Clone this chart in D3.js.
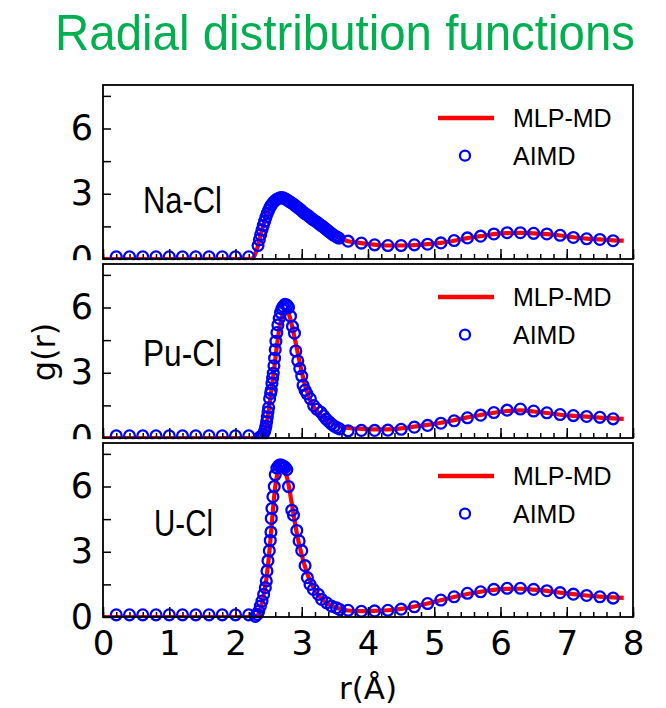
<!DOCTYPE html>
<html><head><meta charset="utf-8">
<script src="https://cdn.jsdelivr.net/npm/d3@7"></script>
<style>html,body{margin:0;padding:0;background:#fff;} svg{display:block;}</style>
</head><body><svg id="c" width="666" height="708"></svg>
<script>
// ---------- data ----------
const chartTitle = "Radial distribution functions";
const panelNames = ["Na-Cl", "Pu-Cl", "U-Cl"];
const legendLabels = ["MLP-MD", "AIMD"];
const xTickLabels = [0, 1, 2, 3, 4, 5, 6, 7, 8];
const yTickLabels = [0, 3, 6];
const xTitle = "r(Å)";
const yTitle = "g(r)";

// AIMD sparse points (shared r positions)
const aimdFlatR = [0.2, 0.4, 0.6, 0.8, 1.0, 1.2, 1.4, 1.6, 1.8, 2.0, 2.2];
const aimdFlatG = [0.1, 0.1, 0.1, 0.1, 0.1, 0.1, 0.1, 0.1, 0.1, 0.1, 0.1];
const aimdTailR = [3.7, 3.9, 4.1, 4.3, 4.5, 4.7, 4.9, 5.1, 5.3, 5.5, 5.7, 5.9, 6.1, 6.3, 6.5, 6.7, 6.9, 7.1, 7.3, 7.5, 7.7];

// Na-Cl
const naclPeakR = [2.34,2.36,2.38,2.40,2.42,2.44,2.46,2.48,2.50,2.52,2.54,2.57,2.60,2.63,2.66,2.69,2.72,2.75,2.78,2.81,2.84,2.87,2.90,2.93,2.96,2.99,3.02,3.05,3.08,3.11,3.14,3.17,3.20,3.23,3.26,3.29,3.32,3.35,3.38,3.41,3.44,3.47,3.50,3.53,3.56];
const naclPeakG = [0.62,0.88,1.12,1.34,1.55,1.74,1.93,2.10,2.24,2.37,2.48,2.60,2.69,2.76,2.80,2.82,2.81,2.77,2.71,2.65,2.59,2.53,2.46,2.39,2.32,2.25,2.16,2.09,2.03,1.96,1.88,1.81,1.75,1.69,1.62,1.55,1.49,1.41,1.34,1.26,1.19,1.12,1.06,1.01,0.96];
const naclTailG = [0.82,0.73,0.65,0.62,0.62,0.65,0.68,0.74,0.85,0.97,1.05,1.15,1.21,1.21,1.18,1.15,1.09,0.99,0.93,0.90,0.84];
const naclLineR = [0,2.2,2.26,2.30,2.34,2.38,2.42,2.46,2.50,2.55,2.60,2.65,2.70,2.75,2.80,2.90,3.00,3.10,3.20,3.30,3.40,3.50,3.60,3.70,3.90,4.10,4.30,4.50,4.70,4.90,5.10,5.30,5.50,5.70,5.90,6.10,6.30,6.50,6.70,6.90,7.10,7.30,7.50,7.70,7.86];
const naclLineG = [0,0,0.03,0.25,0.62,1.12,1.55,1.93,2.24,2.52,2.69,2.79,2.82,2.77,2.67,2.46,2.22,1.98,1.75,1.53,1.29,1.07,0.92,0.82,0.73,0.66,0.62,0.62,0.64,0.68,0.74,0.84,0.96,1.05,1.14,1.19,1.20,1.18,1.14,1.08,1.00,0.94,0.90,0.86,0.84];

// Pu-Cl
const puclPeakR = [2.36,2.38,2.40,2.42,2.44,2.45,2.46,2.47,2.48,2.49,2.50,2.515,2.53,2.54,2.55,2.56,2.57,2.58,2.59,2.60,2.61,2.625,2.64,2.66,2.68,2.70,2.72,2.75,2.78,2.80,2.83,2.86,2.89,2.91,2.94,2.97,3.00,3.02,3.05,3.08,3.13,3.18,3.23,3.29,3.33,3.37,3.41,3.45,3.49,3.53,3.57];
const puclPeakG = [0.02,0.05,0.10,0.18,0.30,0.42,0.55,0.75,0.96,1.20,1.40,1.81,2.05,2.20,2.51,2.75,2.98,3.32,3.67,4.06,4.45,4.85,5.20,5.50,5.77,5.95,6.05,6.15,6.10,6.00,5.60,5.13,4.82,4.00,3.55,3.19,2.85,2.42,2.20,2.03,1.80,1.49,1.32,1.18,1.02,0.87,0.75,0.64,0.55,0.48,0.42];
const puclTailG = [0.33,0.35,0.35,0.36,0.40,0.50,0.58,0.68,0.79,0.93,1.05,1.17,1.28,1.33,1.24,1.16,1.08,1.03,0.99,0.95,0.88];
const puclLineR = [0,2.2,2.34,2.38,2.42,2.45,2.48,2.51,2.54,2.57,2.60,2.63,2.66,2.69,2.72,2.75,2.78,2.81,2.85,2.90,2.95,3.00,3.05,3.10,3.15,3.20,3.30,3.40,3.50,3.60,3.70,3.90,4.10,4.30,4.50,4.70,4.90,5.10,5.30,5.50,5.70,5.90,6.10,6.30,6.50,6.70,6.90,7.10,7.30,7.50,7.70,7.86];
const puclLineG = [0,0,0,0.03,0.12,0.35,0.8,1.45,2.15,2.85,3.6,4.35,5.0,5.45,5.75,5.88,5.85,5.65,5.2,4.5,3.75,3.05,2.42,1.95,1.6,1.35,1.0,0.78,0.64,0.52,0.46,0.42,0.40,0.40,0.44,0.52,0.60,0.70,0.82,0.95,1.06,1.16,1.24,1.27,1.22,1.15,1.07,1.02,0.98,0.94,0.90,0.88];

// U-Cl
const uclPeakR = [2.30,2.33,2.35,2.375,2.40,2.425,2.45,2.465,2.475,2.49,2.51,2.525,2.535,2.54,2.55,2.565,2.585,2.60,2.625,2.65,2.675,2.70,2.725,2.75,2.775,2.80,2.85,2.875,2.925,2.96,3.00,3.05,3.085,3.125,3.175,3.25,3.30,3.375,3.45,3.525,3.575];
const uclPeakG = [0.03,0.12,0.26,0.50,0.73,1.04,1.35,1.66,2.12,2.59,3.05,3.52,3.91,4.53,4.99,5.53,6.00,6.54,6.85,6.95,7.00,6.98,6.93,6.88,6.78,6.00,4.91,4.68,3.98,3.50,3.05,2.36,1.81,1.50,1.27,1.04,0.81,0.65,0.50,0.42,0.34];
const uclTailG = [0.31,0.26,0.28,0.31,0.36,0.47,0.62,0.78,0.93,1.09,1.16,1.27,1.32,1.32,1.27,1.21,1.12,1.05,0.99,0.93,0.87];
const uclLineR = [0,2.2,2.30,2.34,2.38,2.42,2.45,2.48,2.51,2.54,2.57,2.60,2.63,2.67,2.72,2.76,2.80,2.84,2.88,2.92,2.96,3.00,3.05,3.10,3.15,3.20,3.30,3.40,3.50,3.60,3.70,3.90,4.10,4.30,4.50,4.70,4.90,5.10,5.30,5.50,5.70,5.90,6.10,6.30,6.50,6.70,6.90,7.10,7.30,7.50,7.70,7.86];
const uclLineG = [0,0,0,0.1,0.45,0.95,1.4,2.1,2.95,4.0,5.1,6.0,6.55,6.88,6.85,6.6,6.1,5.4,4.65,3.95,3.35,2.85,2.3,1.85,1.5,1.22,0.84,0.6,0.45,0.36,0.3,0.27,0.28,0.31,0.37,0.48,0.62,0.77,0.92,1.06,1.16,1.25,1.29,1.30,1.26,1.20,1.12,1.05,0.99,0.94,0.90,0.88];

// ---------- drawing ----------
const svg = d3.select("#c");
const numFont = "'DejaVu Sans', Verdana, sans-serif";
const txtFont = "'Liberation Sans', Arial, Helvetica, sans-serif";
const narrowFont = "'Liberation Sans Narrow', 'Liberation Sans', Arial, sans-serif";

svg.append("rect").attr("width", 666).attr("height", 708).attr("fill", "#fff");

svg.append("text")
  .attr("x", 55).attr("y", 50)
  .attr("textLength", 580).attr("lengthAdjust", "spacingAndGlyphs")
  .attr("font-family", txtFont).attr("font-size", 50)
  .attr("fill", "#00b050").text(chartTitle);

const x = d3.scaleLinear().domain([0, 8]).range([103, 633]);
const tops = [85, 264, 443];
const ph = 174;

const panels = [
  { name: panelNames[0], aR: [...aimdFlatR, ...naclPeakR, ...aimdTailR], aG: [...aimdFlatG, ...naclPeakG, ...naclTailG], lR: naclLineR, lG: naclLineG, lx: 143, lw: 79, ly: 213 },
  { name: panelNames[1], aR: [...aimdFlatR, ...puclPeakR, ...aimdTailR], aG: [...aimdFlatG, ...puclPeakG, ...puclTailG], lR: puclLineR, lG: puclLineG, lx: 143, lw: 79, ly: 366 },
  { name: panelNames[2], aR: [...aimdFlatR, ...uclPeakR, ...aimdTailR], aG: [...aimdFlatG, ...uclPeakG, ...uclTailG], lR: uclLineR, lG: uclLineG, lx: 154, lw: 59, ly: 536 }
];

const minorTicks = d3.range(0, 8.001, 0.2);

panels.forEach((p, i) => {
  const top = tops[i], bot = top + ph;
  const y = d3.scaleLinear().domain([0, 8]).range([bot, top]);
  const g = svg.append("g");

  const bgTop = i === 0 ? top - 5 : tops[i - 1] + ph + 1.2;
  g.append("rect").attr("x", 0).attr("y", bgTop).attr("width", 666).attr("height", bot - bgTop).attr("fill", "#fff");

  g.append("clipPath").attr("id", "clip" + i)
    .append("rect").attr("x", x(0)).attr("y", top).attr("width", x(8) - x(0)).attr("height", ph);

  const line = d3.line().x(d => x(d[0])).y(d => y(d[1])).curve(d3.curveMonotoneX);
  g.append("path").datum(d3.zip(p.lR, p.lG))
    .attr("d", line).attr("fill", "none").attr("stroke", "#ff0000")
    .attr("stroke-width", 4.2).attr("clip-path", `url(#clip${i})`);

  g.append("g").selectAll("circle").data(d3.zip(p.aR, p.aG)).join("circle")
    .attr("cx", d => x(d[0])).attr("cy", d => y(d[1])).attr("r", 5.4)
    .attr("fill", "none").attr("stroke", "#0000ff").attr("stroke-width", 2.3);

  // border
  g.append("rect").attr("x", x(0)).attr("y", top).attr("width", x(8) - x(0)).attr("height", ph)
    .attr("fill", "none").attr("stroke", "#000").attr("stroke-width", 1.8);

  // x ticks (inward)
  const styleTicks = a => { a.select(".domain").remove(); a.selectAll("line").attr("stroke", "#000").attr("stroke-width", 1.5); };
  g.append("g").attr("transform", `translate(0,${bot})`)
    .call(d3.axisTop(x).tickValues(minorTicks).tickSize(5).tickFormat("")).call(styleTicks);
  g.append("g").attr("transform", `translate(0,${bot})`)
    .call(d3.axisTop(x).tickValues(xTickLabels).tickSize(10).tickFormat("")).call(styleTicks);

  // y ticks (inward)
  g.append("g").attr("transform", `translate(${x(0)},0)`)
    .call(d3.axisRight(y).tickValues([0, 1.5, 3, 4.5, 6, 7.5]).tickSize(8).tickFormat("")).call(styleTicks);

  // y labels
  const yl = g.append("g").attr("transform", `translate(${x(0)},0)`)
    .call(d3.axisLeft(y).tickValues(yTickLabels).tickSize(0).tickPadding(10));
  yl.select(".domain").remove();
  yl.attr("font-family", numFont).attr("font-size", 35);
  yl.selectAll("text").attr("fill", "#000");

  // x labels for the bottom panel
  if (i === panels.length - 1) {
    const xl = g.append("g").attr("transform", `translate(0,${bot})`)
      .call(d3.axisBottom(x).tickValues(xTickLabels).tickSize(0).tickPadding(14));
    xl.select(".domain").remove();
    xl.attr("font-family", numFont).attr("font-size", 34);
    xl.selectAll("text").attr("fill", "#000");
  }

  // panel label
  g.append("text").attr("x", p.lx).attr("y", p.ly)
    .attr("textLength", p.lw).attr("lengthAdjust", "spacingAndGlyphs")
    .attr("font-family", narrowFont).attr("font-size", 36).attr("fill", "#000").text(p.name);

  // legend
  const lgLineY = top + 33, lgCircY = top + 70.7;
  g.append("line").attr("x1", 438).attr("x2", 494).attr("y1", lgLineY).attr("y2", lgLineY)
    .attr("stroke", "#ff0000").attr("stroke-width", 4.5);
  g.append("text").attr("x", 513).attr("y", lgLineY).attr("dy", "0.36em")
    .attr("font-family", txtFont).attr("font-size", 25).attr("fill", "#000").text(legendLabels[0]);
  g.append("circle").attr("cx", 465).attr("cy", lgCircY).attr("r", 5)
    .attr("fill", "none").attr("stroke", "#0000ff").attr("stroke-width", 2.3);
  g.append("text").attr("x", 513).attr("y", lgCircY).attr("dy", "0.36em")
    .attr("font-family", txtFont).attr("font-size", 25).attr("fill", "#000").text(legendLabels[1]);
});

// axis titles
svg.append("text").attr("transform", "translate(44,352) rotate(-90)")
  .attr("text-anchor", "middle").attr("dy", "0.35em")
  .attr("font-family", numFont).attr("font-size", 32).attr("fill", "#000").text(yTitle);
svg.append("text").attr("x", 368).attr("y", 699).attr("text-anchor", "middle")
  .attr("font-family", numFont).attr("font-size", 31).attr("fill", "#000").text(xTitle);
</script>
</body></html>
